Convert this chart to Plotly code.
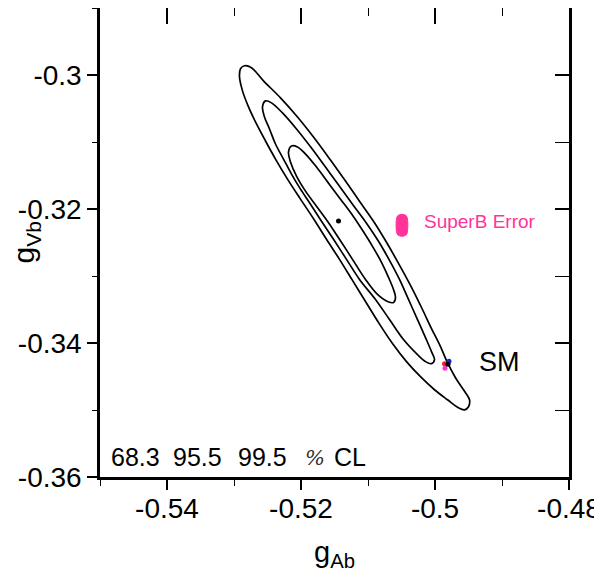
import plotly.graph_objects as go

# 99.5% CL contour (outer)
outer_x = [-0.528433, -0.527388, -0.525597, -0.523060, -0.520523, -0.518135, -0.515597, -0.513359, -0.511269,
           -0.509179, -0.507239, -0.505448, -0.503657, -0.502015, -0.500523, -0.499179, -0.498135, -0.496941,
           -0.495747, -0.494851, -0.495000, -0.495597, -0.496493, -0.498135, -0.500075, -0.502165, -0.504254,
           -0.506344, -0.508433, -0.510373, -0.512314, -0.514254, -0.516194, -0.517985, -0.520075, -0.522015,
           -0.523806, -0.525299, -0.526642, -0.527836, -0.528732, -0.529179, -0.529030, -0.528433]
outer_y = [-0.29862, -0.29892, -0.30087, -0.30341, -0.30626, -0.30925, -0.312695, -0.315838, -0.318832,
           -0.32183, -0.324970, -0.328114, -0.331407, -0.334701, -0.337844, -0.340539, -0.342934, -0.345180,
           -0.346976, -0.348473, -0.34952, -0.34997, -0.349671, -0.348473, -0.346976, -0.345030, -0.34278,
           -0.340090, -0.336946, -0.33380, -0.330659, -0.327515, -0.324521, -0.321677, -0.31853, -0.315539,
           -0.312545, -0.309850, -0.307305, -0.304760, -0.30237, -0.30027, -0.29907, -0.29862]

# 95.5% CL contour (middle)
middle_x = [-0.525299, -0.524403, -0.522762, -0.520672, -0.518433, -0.516344, -0.514254, -0.512314, -0.510224,
            -0.508433, -0.506791, -0.505299, -0.503956, -0.502612, -0.501418, -0.500523, -0.500075, -0.500523,
            -0.501418, -0.502612, -0.504702, -0.506791, -0.508881, -0.511269, -0.513209, -0.515150, -0.516941,
            -0.518582, -0.520075, -0.521418, -0.522612, -0.523806, -0.524702, -0.525448, -0.525747, -0.525299]
middle_y = [-0.30386, -0.30416, -0.30566, -0.308054, -0.310898, -0.313743, -0.31659, -0.319281, -0.322126,
            -0.324820, -0.327665, -0.33051, -0.33350, -0.33650, -0.339192, -0.34129, -0.342485, -0.34308,
            -0.34278, -0.341737, -0.33949, -0.33650, -0.33350, -0.33051, -0.327515, -0.324521, -0.32183,
            -0.319281, -0.317036, -0.314790, -0.312545, -0.310299, -0.308054, -0.30626, -0.304760, -0.30386]

# 68.3% CL contour (inner)
inner_x = [-0.521418, -0.520523, -0.519179, -0.517687, -0.515896, -0.514105, -0.512314, -0.510821, -0.509329,
           -0.507985, -0.506941, -0.506194, -0.505896, -0.506194, -0.507090, -0.508582, -0.510373, -0.512314,
           -0.514254, -0.516045, -0.517687, -0.519329, -0.520672, -0.521568, -0.521866, -0.521418]
inner_y = [-0.31060, -0.31075, -0.311946, -0.313743, -0.316138, -0.31853, -0.32093, -0.323174, -0.325569,
           -0.327964, -0.330210, -0.33201, -0.333204, -0.333952, -0.33380, -0.33275, -0.33051, -0.327515,
           -0.324521, -0.32183, -0.319581, -0.317335, -0.31509, -0.31299, -0.31150, -0.31060]

# best fit point
best_x = [-0.5144]
best_y = [-0.3218]

# SuperB projected error (outline)
superb_x = [-0.50493, -0.50430, -0.50411, -0.50411, -0.50430, -0.50493, -0.50556, -0.50575, -0.50575, -0.50556, -0.50493]
superb_y = [-0.32078, -0.32100, -0.32150, -0.32336, -0.32386, -0.32408, -0.32386, -0.32336, -0.32150, -0.32100, -0.32078]

# Standard Model predictions
sm_x = [-0.49858, -0.49851, -0.49791, -0.49806]
sm_y = [-0.34308, -0.34376, -0.34271, -0.34316]
sm_colors = ["#e8202a", "#ff33cc", "#1f1fd6", "#000000"]

x_tick_vals = [-0.54, -0.52, -0.50, -0.48]
x_tick_text = ["-0.54", "-0.52", "-0.5", "-0.48"]
y_tick_vals = [-0.36, -0.34, -0.32, -0.30]
y_tick_text = ["-0.36", "-0.34", "-0.32", "-0.3"]
x_range = [-0.55, -0.48]
y_range = [-0.36, -0.29]

cl_labels = ["68.3", "95.5", "99.5"]

FONT = "Liberation Sans, Arial, Helvetica, sans-serif"

fig = go.Figure()
for cx, cy in [(outer_x, outer_y), (middle_x, middle_y), (inner_x, inner_y)]:
    fig.add_trace(go.Scatter(x=cx, y=cy, mode="lines", line=dict(color="black", width=1.7, shape="spline", smoothing=1.0),
                             hoverinfo="skip", showlegend=False))

fig.add_trace(go.Scatter(x=superb_x, y=superb_y, mode="lines", fill="toself", fillcolor="#ff3399",
                         line=dict(color="#ff3399", width=1, shape="spline"), showlegend=False))
fig.add_trace(go.Scatter(x=best_x, y=best_y, mode="markers", marker=dict(color="black", size=5), showlegend=False))
fig.add_trace(go.Scatter(x=sm_x, y=sm_y, mode="markers", marker=dict(color=sm_colors, size=5), showlegend=False))
# invisible trace for top/right mirror axes
fig.add_trace(go.Scatter(x=[None], y=[None], xaxis="x2", yaxis="y2", showlegend=False, mode="markers"))

tickfont = dict(family=FONT, size=28, color="black")
fig.update_layout(
    width=602, height=577,
    margin=dict(l=92, r=41, t=0, b=108, autoexpand=False),
    plot_bgcolor="white", paper_bgcolor="white",
    xaxis=dict(range=x_range, tickvals=x_tick_vals, ticktext=x_tick_text, ticks="outside", ticklen=10, tickwidth=1.5,
               tickcolor="black", showline=True, linecolor="black", linewidth=2.5, mirror=True, showgrid=False,
               zeroline=False, tickfont=tickfont, automargin=False, ticklabelstandoff=-5,
               minor=dict(dtick=0.01, tick0=-0.55, ticks="outside", ticklen=6, tickwidth=1.2, tickcolor="black", showgrid=False),
               title=dict(text="g<sub>Ab</sub>", font=dict(family=FONT, size=29, color="black"), standoff=19)),
    yaxis=dict(range=y_range, tickvals=y_tick_vals, ticktext=y_tick_text, ticks="outside", ticklen=10, tickwidth=1.5,
               tickcolor="black", showline=True, linecolor="black", linewidth=2.5, mirror=True, showgrid=False,
               zeroline=False, tickfont=tickfont, automargin=False,
               minor=dict(dtick=0.01, tick0=-0.36, ticks="outside", ticklen=5, tickwidth=1.2, tickcolor="black", showgrid=False)),
    xaxis2=dict(range=x_range, overlaying="x", side="top", anchor="y", tickvals=x_tick_vals, ticks="inside", ticklen=16,
                tickwidth=1.5, tickcolor="black", showticklabels=False, showgrid=False, zeroline=False, automargin=False,
                minor=dict(dtick=0.01, tick0=-0.55, ticks="inside", ticklen=8, tickwidth=1.2, tickcolor="black", showgrid=False)),
    yaxis2=dict(range=y_range, overlaying="y", side="right", anchor="x", tickvals=y_tick_vals, ticks="inside", ticklen=14,
                tickwidth=1.5, tickcolor="black", showticklabels=False, showgrid=False, zeroline=False, automargin=False,
                minor=dict(dtick=0.01, tick0=-0.36, ticks="inside", ticklen=14, tickwidth=1.2, tickcolor="black", showgrid=False)),
)

annotations = [
    dict(text="g<sub>Vb</sub>", textangle=-90, xref="paper", yref="paper", x=-0.158, y=0.5, showarrow=False,
         font=dict(family=FONT, size=30, color="black"), xanchor="center", yanchor="middle"),
    dict(text="SuperB Error", x=-0.50187, y=-0.3219, xref="x", yref="y", showarrow=False, xanchor="left",
         yanchor="middle", font=dict(family=FONT, size=19, color="#ff3399")),
    dict(text="SM", x=-0.49366, y=-0.34280, xref="x", yref="y", showarrow=False, xanchor="left",
         yanchor="middle", font=dict(family=FONT, size=27, color="black")),
]
cl_x_px = [0.0190, 0.1512, 0.2897]
for lab, xp in zip(cl_labels, cl_x_px):
    annotations.append(dict(text=lab, xref="paper", yref="paper", x=xp, y=0.042, showarrow=False, xanchor="left",
                            yanchor="middle", font=dict(family=FONT, size=25, color="black")))
annotations.append(dict(text="<i>%</i>", xref="paper", yref="paper", x=0.4334, y=0.040, showarrow=False, xanchor="left",
                        yanchor="middle", font=dict(family="DejaVu Serif, serif", size=21, color="#333333")))
annotations.append(dict(text="CL", xref="paper", yref="paper", x=0.4952, y=0.042, showarrow=False, xanchor="left",
                        yanchor="middle", font=dict(family=FONT, size=25, color="black")))
fig.update_layout(annotations=annotations)

fig.write_html("out.html")
